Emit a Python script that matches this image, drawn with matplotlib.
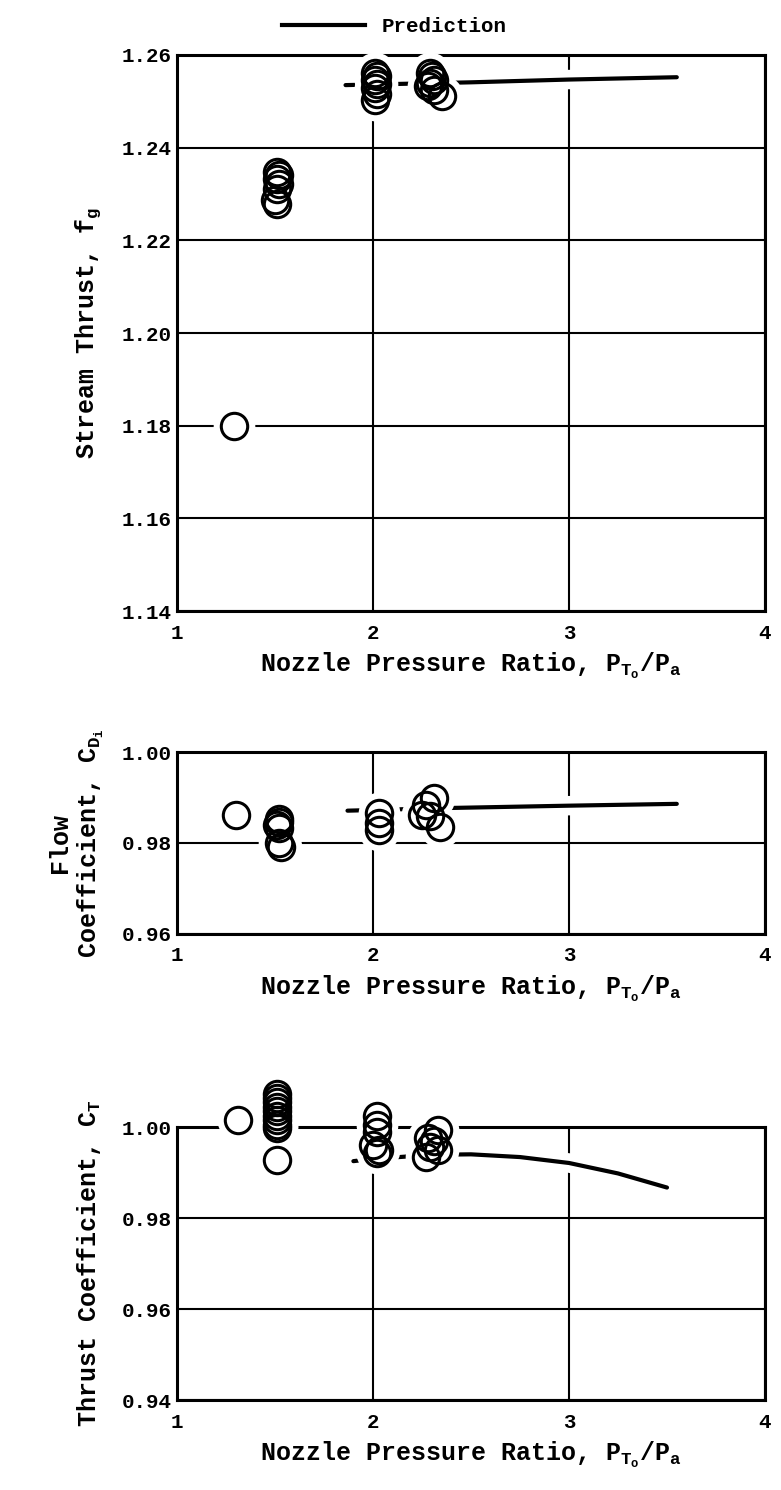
import numpy as np
import matplotlib.pyplot as plt
from matplotlib.lines import Line2D
import matplotlib.patheffects as pe

plt.rcParams['font.family'] = ['Liberation Mono', 'DejaVu Sans Mono']
plt.rcParams['font.weight'] = 'bold'
plt.rcParams['mathtext.fontset'] = 'custom'
plt.rcParams['mathtext.default'] = 'bf'
plt.rcParams['mathtext.rm'] = 'Liberation Mono:bold'
plt.rcParams['mathtext.it'] = 'Liberation Mono:bold'
plt.rcParams['mathtext.bf'] = 'Liberation Mono:bold'

# stream thrust
st_npr = [1.29, 1.51, 1.52, 1.51, 1.52, 1.51, 1.50, 1.51,
          2.01, 2.02, 2.01, 2.02, 2.01, 2.02, 2.01,
          2.29, 2.30, 2.31, 2.29, 2.28, 2.31, 2.35]
st_fg = [1.180, 1.2348, 1.2340, 1.2332, 1.2322, 1.2310, 1.2288, 1.2278,
         1.2562, 1.2555, 1.2547, 1.2538, 1.2528, 1.2515, 1.2503,
         1.2561, 1.2554, 1.2547, 1.2540, 1.2532, 1.2524, 1.2512]
st_pred_npr = [1.86, 2.5, 3.0, 3.55]
st_pred_fg = [1.2535, 1.2541, 1.2547, 1.2552]

# flow coefficient
cd_npr = [1.30, 1.52, 1.52, 1.51, 1.52, 1.52, 1.53,
          2.03, 2.03, 2.03, 2.27, 2.31, 2.25, 2.29, 2.34]
cd_val = [0.9862, 0.9852, 0.9846, 0.9840, 0.9834, 0.9801, 0.9791,
          0.9866, 0.9845, 0.9828, 0.9883, 0.9899, 0.9862, 0.9860, 0.9835]
cd_pred_npr = [1.87, 2.4, 3.0, 3.55]
cd_pred_val = [0.9871, 0.9877, 0.9882, 0.9886]

# thrust coefficient
ct_npr = [1.31, 1.51, 1.51, 1.51, 1.51, 1.51, 1.51, 1.51, 1.51, 1.51, 1.51,
          2.02, 2.02, 2.02, 2.00, 2.03, 2.02,
          2.33, 2.28, 2.29, 2.27, 2.33, 2.31]
ct_val = [1.0015, 1.0073, 1.0064, 1.0055, 1.0045, 1.0035, 1.0025, 1.0015, 1.0005, 0.9998, 0.9927,
          1.0025, 1.0005, 0.9990, 0.9960, 0.9950, 0.9942,
          0.9993, 0.9976, 0.9956, 0.9934, 0.9950, 0.9970]
ct_pred_npr = [1.90, 2.0, 2.3, 2.5, 2.75, 3.0, 3.25, 3.5]
ct_pred_val = [0.9925, 0.9930, 0.9939, 0.9940, 0.9934, 0.9921, 0.9898, 0.9867]

x_ticks = [1, 2, 3, 4]

fig = plt.figure(figsize=(7.81, 14.90), dpi=100)
ax1 = fig.add_axes([0.2266, 0.5899, 0.7529, 0.3732])
ax2 = fig.add_axes([0.2266, 0.3732, 0.7529, 0.1221])
ax3 = fig.add_axes([0.2266, 0.0604, 0.7529, 0.1832])

panels = [
    (ax1, st_npr, st_fg, st_pred_npr, st_pred_fg, (1.14, 1.26), [1.14, 1.16, 1.18, 1.20, 1.22, 1.24, 1.26], 'Stream Thrust, f$_\\mathbf{g}$', -0.125),
    (ax2, cd_npr, cd_val, cd_pred_npr, cd_pred_val, (0.96, 1.00), [0.96, 0.98, 1.00], 'Flow\nCoefficient, C$_{\\mathbf{D}_\\mathbf{i}}$', -0.12),
    (ax3, ct_npr, ct_val, ct_pred_npr, ct_pred_val, (0.94, 1.00), [0.94, 0.96, 0.98, 1.00], 'Thrust Coefficient, C$_\\mathbf{T}$', -0.125),
]

for ax, xs, ys, px, py, ylim, yt, ylab, lx in panels:
    ax.set_xlim(1, 4)
    ax.set_ylim(*ylim)
    ax.set_xticks(x_ticks)
    ax.set_xticklabels([str(t) for t in x_ticks])
    ax.set_yticks(yt)
    ax.set_yticklabels(['%.2f' % v for v in yt])
    ax.grid(True, color='black', lw=1.5, zorder=0.5)
    ax.set_axisbelow(True)
    for s in ax.spines.values():
        s.set_linewidth(2.2)
    ax.tick_params(length=0, labelsize=15)
    ax.tick_params(axis='x', pad=9)
    ax.tick_params(axis='y', pad=4)
    # prediction curve, white halo breaks the grid like the original
    ax.plot(px, py, color='black', lw=3, solid_capstyle='round', zorder=2,
            path_effects=[pe.withStroke(linewidth=14, foreground='white', capstyle='butt')])
    ax.plot(xs, ys, 'o', ms=30, mfc='white', mec='none', zorder=3, clip_on=False)
    ax.plot(xs, ys, 'o', ms=19, mfc='none', mec='black', mew=2.2, zorder=4, clip_on=False)
    ax.set_xlabel('Nozzle Pressure Ratio, P$_{\\mathbf{T}_\\mathbf{o}}$/P$_\\mathbf{a}$',
                  fontsize=18, fontweight='bold', labelpad=6)
    ax.set_ylabel(ylab, fontsize=18, fontweight='bold', multialignment='center')
    ax.yaxis.set_label_coords(lx, 0.5)

ax1.legend([Line2D([0], [0], color='black', lw=3)], ['Prediction'], loc='lower center',
           bbox_to_anchor=(0.37, 1.0), frameon=False, handlelength=4, fontsize=15)

plt.savefig('out.png', dpi=100)
